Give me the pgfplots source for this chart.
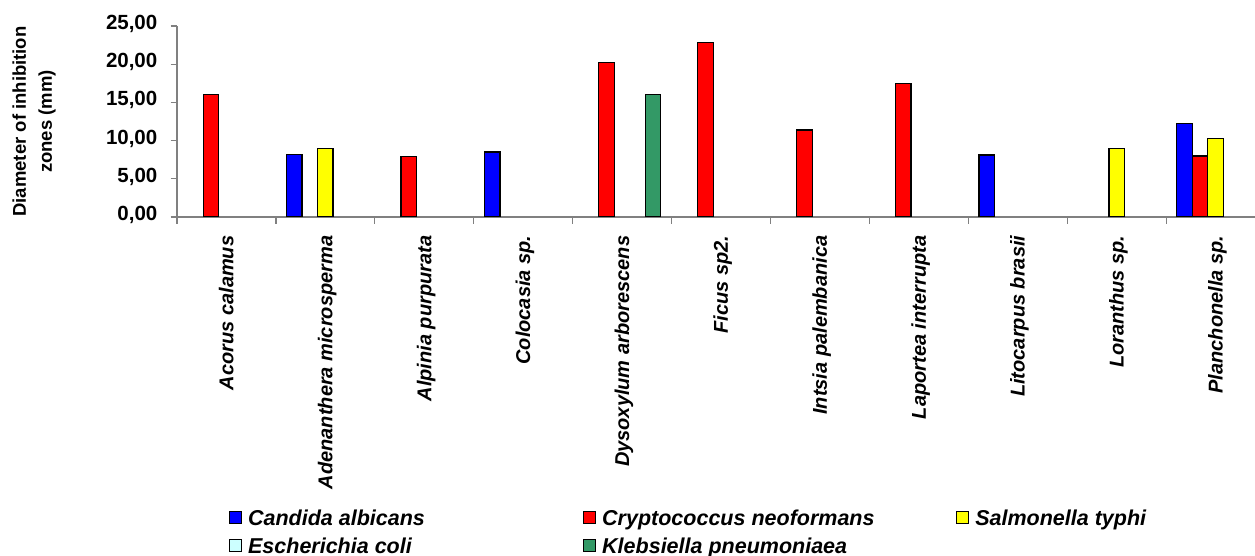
\documentclass[border=0pt]{standalone}
\usepackage{fontspec}
\setmainfont{Liberation Sans}
\usepackage{pgfplots}
\pgfplotsset{compat=1.18}
\definecolor{cblue}{RGB}{0,0,255}
\definecolor{cred}{RGB}{255,0,0}
\definecolor{cyel}{RGB}{255,255,0}
\definecolor{ccyan}{RGB}{204,255,255}
\definecolor{cgreen}{RGB}{51,153,102}
\definecolor{axgray}{RGB}{128,128,128}
\pgfplotsset{sqlegend/.style={legend image code/.code={\draw[##1, draw=black, line width=1.1bp] (0bp,-3bp) rectangle (12bp,9bp);}}}
\begin{document}
\begin{tikzpicture}
\begin{axis}[
  at={(177bp,339bp)}, anchor=south west,
  scale only axis, width=1088bp, height=191bp,
  xmin=-0.5, xmax=10.5, ymin=0, ymax=25,
  axis x line*=bottom, axis y line*=left,
  axis line style={draw=axgray, line width=1.2bp, -},
  tick style={draw=axgray, line width=1.2bp},
  tick align=outside, major tick length=6.5bp,
  ybar=0pt, bar width=15.5bp,
  ytick={0,5,10,15,20,25},
  yticklabel={\pgfmathprintnumber[fixed,fixed zerofill,precision=2,use comma,assume math mode=true]{\tick}},
  yticklabel style={anchor=east, text height=0.716em, text depth=0pt, inner sep=0pt, xshift=-13bp, font=\fontsize{20.5bp}{24bp}\selectfont\bfseries},
  xtick={-0.5,0.5,...,10.5},
  x tick label as interval,
  xticklabels={Acorus calamus, Adenanthera microsperma, Alpinia purpurata, Colocasia sp., Dysoxylum arborescens, Ficus sp2., Intsia palembanica, Laportea interrupta, Litocarpus brasii, Loranthus sp., Planchonella sp.},
  xticklabel style={rotate=90, anchor=east, text height=1.4em, text depth=0pt, inner sep=0pt, font=\fontsize{20bp}{24bp}\selectfont\bfseries\itshape},
  xticklabel shift=12bp,
  legend columns=3,
  legend cell align=left,
  legend style={at={(axis description cs:0.0478,-1.532)}, anchor=north west, draw=none, fill=none, inner sep=0pt, outer sep=0pt, row sep=7bp,
    nodes={inner sep=0pt, text height=16bp, text depth=5bp, font=\fontsize{21.5bp}{24bp}\selectfont\bfseries\itshape},
    /tikz/every odd column/.append style={column sep=6bp}},
]
\addplot[fill=cblue, draw=black, line width=1.3bp, sqlegend] coordinates {(1,8.2) (3,8.5) (8,8.1) (10,12.2)};
\addlegendentry{\makebox[335bp][l]{Candida albicans}}
\addplot[fill=cred, draw=black, line width=1.3bp, sqlegend] coordinates {(0,16.0) (2,7.9) (4,20.2) (5,22.8) (6,11.4) (7,17.5) (10,8.0)};
\addlegendentry{\makebox[354bp][l]{Cryptococcus neoformans}}
\addplot[fill=cyel, draw=black, line width=1.3bp, sqlegend] coordinates {(1,9.0) (9,9.0) (10,10.3)};
\addlegendentry{Salmonella typhi}
\addplot[fill=ccyan, draw=none, sqlegend] coordinates {(0,0) (1,0) (2,0) (3,0) (4,0) (5,0) (6,0) (7,0) (8,0) (9,0) (10,0)};
\addlegendentry{\makebox[335bp][l]{Escherichia coli}}
\addplot[fill=cgreen, draw=black, line width=1.3bp, sqlegend] coordinates {(4,16.0)};
\addlegendentry{\makebox[354bp][l]{Klebsiella pneumoniaea}}
\end{axis}
\node[rotate=90, align=center, font=\fontsize{18.5bp}{26bp}\selectfont\bfseries] at (34bp,434.5bp) {Diameter of inhibition\\zones (mm)};
\pgfresetboundingbox
\useasboundingbox (0,0) rectangle (1255bp,556bp);
\end{tikzpicture}
\end{document}
